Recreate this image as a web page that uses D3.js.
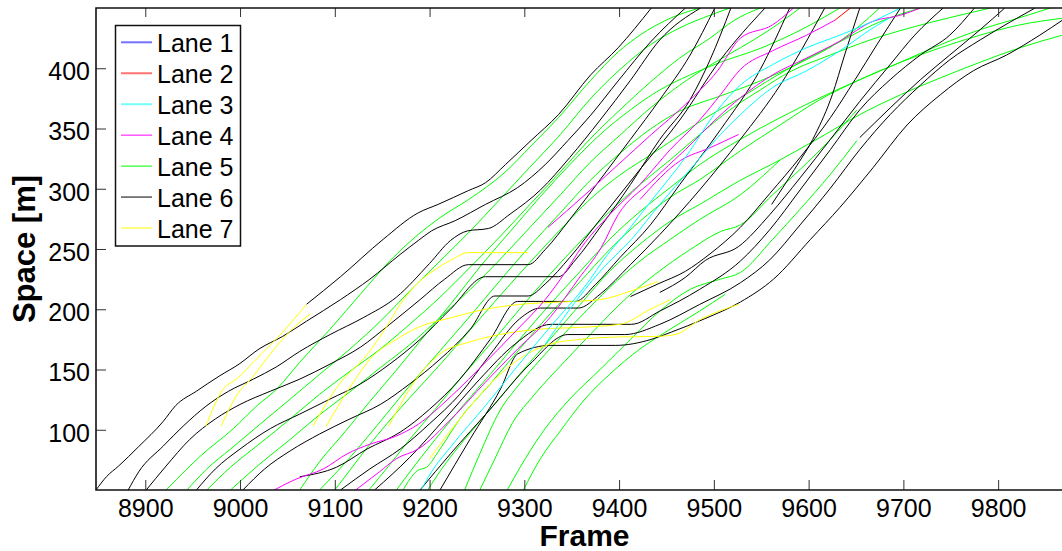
<!DOCTYPE html>
<html><head><meta charset="utf-8">
<script src="https://cdnjs.cloudflare.com/ajax/libs/d3/7.8.5/d3.min.js"></script>
<style>
body{margin:0;background:#fff}
svg{display:block}
text{font-family:Arial,"Liberation Sans",Helvetica,sans-serif}
</style>
</head><body>
<svg id="c" width="1062" height="551"></svg>
<script>
// ---------- data ----------
const laneNames = ["Lane 1","Lane 2","Lane 3","Lane 4","Lane 5","Lane 6","Lane 7"];
const laneColors = ["#0000ff","#ff0000","#00ffff","#ff00ff","#00ff00","#000000","#ffff00"];
const legendColors = ["#7373ff","#ff7373","#73ffff","#ff00ff","#00ff00","#000000","#ffff00"];
const frameTicks = [8900,9000,9100,9200,9300,9400,9500,9600,9700,9800];
const spaceTicks = [100,150,200,250,300,350,400];
const frameDomain = [8848, 9879];
const spaceDomain = [50, 450];

// each track: [frame, space] pairs
const lane1Tracks = [];
const lane2Tracks = [
  [[9628,440],[9644,450]]
];
const lane3Tracks = [
  [[9191,50],[9202,65],[9223,86.5],[9259,120],[9293,153],[9328,186],[9364,219],[9388,245.5],[9412,268],[9434,290],[9470,326],[9504,365.5],[9528,386],[9562,403],[9598,417],[9633,427.5],[9668,439],[9697,450]],
  [[9322,171],[9348,200],[9380,231.5],[9413,258],[9443,287],[9475,316],[9507,345],[9528,361.5],[9562,384],[9598,398],[9633,414.5],[9668,433.5],[9686,442]]
];
const lane4Tracks = [
  [[9325,268],[9364,295],[9399,320],[9434,345],[9470,370],[9504,398],[9528,425],[9562,436],[9584,450]],
  [[9036,50],[9059,59],[9088,67.5],[9113,80],[9137,88],[9164,94.5],[9188,104.5],[9223,128],[9259,156],[9293,183.5],[9322,208],[9343,230.5],[9360,251],[9390,278.5],[9422,303.5],[9454,332.5],[9485,357],[9507,378],[9528,399],[9562,414.5],[9598,427.5],[9628,440]],
  [[9122,50],[9147,65],[9165,76],[9188,84],[9223,109],[9259,139.5],[9293,167],[9328,194],[9357,225],[9381,251],[9399,278.5],[9434,306],[9470,332.5],[9504,359],[9528,375.5],[9562,394.5],[9598,408.5],[9633,422.5],[9668,439],[9697,444],[9718,450]],
  [[9422,291],[9465,323.5],[9496,334],[9526,345]]
];
const lane5Tracks = [
  [[8922,50],[8944,67.5],[8958,78],[8993,101],[9018,120],[9039,134],[9063,156],[9095,183.5],[9127,212.5],[9158,240],[9188,262],[9211,276],[9241,291],[9280,314],[9307,335.5],[9336,359],[9370,390],[9399,413.5],[9422,427.5],[9454,441.5],[9485,450]],
  [[8944,50],[8965,67.5],[8990,84],[9021,104.5],[9053,125.5],[9084,146],[9116,167],[9148,190],[9179,215],[9211,240],[9243,265],[9274,291],[9306,318],[9338,345],[9369,374],[9401,399],[9433,419.5],[9464,433.5],[9496,444],[9517,450]],
  [[8965,50],[8990,69],[9020,88],[9053,109],[9084,129.5],[9116,148.5],[9148,167],[9179,187.5],[9211,210],[9243,235],[9274,260],[9306,287],[9338,314],[9369,341],[9401,365.5],[9433,388.5],[9464,408.5],[9496,425],[9522,440],[9549,450]],
  [[8990,50],[9020,71],[9053,92],[9084,112.5],[9116,131.5],[9148,151.5],[9179,170.5],[9211,193],[9243,216.5],[9274,241],[9306,268],[9338,295],[9369,321.5],[9401,344.5],[9433,367],[9464,386],[9496,402.5],[9528,417],[9559,432],[9591,450]],
  [[9063,50],[9084,73.5],[9111,98.5],[9137,123.5],[9164,148.5],[9190,173.5],[9222,204],[9253,235],[9285,264.5],[9317,293.5],[9348,320],[9380,345],[9412,365.5],[9443,382],[9475,394.5],[9507,405],[9549,416.5],[9591,431.5],[9633,450]],
  [[9084,50],[9116,77],[9134,93.5],[9155,113.5],[9179,136.5],[9211,165.5],[9243,194.5],[9274,223.5],[9306,252.5],[9338,280],[9369,306.5],[9401,329.5],[9433,349.5],[9464,364.5],[9507,377],[9549,389.5],[9591,404.5],[9633,422.5],[9675,450]],
  [[9100,50],[9116,66.5],[9134,85],[9155,105],[9179,126.5],[9211,154],[9243,183],[9274,211],[9306,239],[9338,266],[9369,291],[9401,311.5],[9433,328],[9464,344.5],[9496,361],[9528,375.5],[9559,390.5],[9591,405],[9633,422],[9675,438.5],[9718,450]],
  [[9136,50],[9158,71],[9179,92],[9206,117],[9232,142],[9264,171],[9295,200],[9327,229],[9359,256],[9390,281],[9422,303.5],[9454,324],[9485,345],[9517,365.5],[9549,382],[9580,397],[9623,411],[9665,423.5],[9707,433.5],[9749,442],[9792,450]],
  [[9165,50],[9185,71],[9206,92],[9232,117],[9264,146],[9295,175],[9327,204],[9359,231.5],[9390,258],[9422,281],[9454,301],[9485,320],[9528,341],[9570,359],[9612,375.5],[9654,390.5],[9697,405],[9739,419.5],[9781,432],[9823,442],[9855,450]],
  [[9172,50],[9187,66],[9197,69],[9211,84],[9232,109],[9264,138],[9295,167],[9327,196],[9359,223],[9390,249.5],[9422,273],[9454,293],[9485,307.5],[9528,331.5],[9570,353],[9612,374],[9654,390.5],[9697,405],[9739,417],[9781,427.5],[9823,436],[9868,441.5]],
  [[9198,50],[9216,71],[9237,92],[9264,117],[9295,146],[9327,175],[9359,204],[9390,231.5],[9422,254],[9454,273],[9485,287],[9528,307],[9570,324],[9612,342.5],[9654,361.5],[9697,378],[9739,392],[9781,405],[9823,417],[9868,427.5]],
  [[9237,50],[9253,80],[9274,115.5],[9295,138],[9327,167],[9359,193.5],[9390,218],[9422,240],[9454,258],[9485,274.5],[9528,295],[9570,324]],
  [[9253,50],[9269,76],[9287,105],[9311,129.5],[9343,157],[9375,183.5],[9406,208],[9438,229],[9475,249.5],[9507,264.5],[9528,270],[9562,295],[9591,316],[9623,341],[9651,365.5]],
  [[9282,50],[9301,76],[9322,101],[9348,125.5],[9380,150],[9412,175],[9443,198.5],[9475,216.5],[9507,225],[9528,230.5],[9562,258],[9591,283],[9623,312],[9651,340]],
  [[9299,50],[9317,76],[9338,99],[9364,125.5],[9390,146],[9422,167],[9454,183.5],[9485,198.5],[9512,212.5]]
];
const lane6Tracks = [
  [[9070,204],[9106,227],[9151,258],[9188,280],[9209,287],[9241,298.5],[9259,305],[9280,320],[9307,340],[9336,361.5],[9370,394.5],[9399,417],[9434,450]],
  [[8848,50],[8859,61],[8872,70],[8893,86],[8919,107],[8932,120],[8954,132],[8978,144.5],[8999,154.5],[9020,167],[9045,177.5],[9070,190],[9106,208],[9137,225],[9169,245.5],[9188,257],[9202,265],[9227,273.5],[9259,287],[9293,301],[9322,320],[9346,340],[9370,361],[9399,389.5],[9434,422.5],[9470,450]],
  [[8882,50],[8893,65],[8919,86.5],[8940,103],[8964,119.5],[8988,132],[9014,142],[9038,152],[9063,165],[9095,179],[9130,193],[9165,210],[9200,238],[9222,257],[9240,265],[9262,267],[9285,279],[9317,299],[9348,326],[9380,357],[9412,390],[9443,423.5],[9486,450]],
  [[8901,50],[8921,69],[8947,92],[8974,109],[9000,121],[9032,132],[9063,142],[9095,154.5],[9127,168.5],[9158,187.5],[9190,208],[9216,225],[9241,237],[9304,237],[9322,249.5],[9348,274.5],[9380,307.5],[9412,341],[9443,374],[9475,411],[9501,450]],
  [[8954,50],[8974,67.5],[9000,84],[9032,101],[9063,113],[9095,125.5],[9127,138],[9158,154.5],[9190,175],[9222,200],[9259,227],[9336,227],[9354,241],[9380,268],[9412,303.5],[9443,341],[9475,374],[9496,407],[9518,450]],
  [[9003,50],[9026,67.5],[9053,82.5],[9084,96.5],[9116,109],[9148,121],[9179,138],[9211,158.5],[9243,183.5],[9269,211],[9304,211],[9322,221],[9348,243],[9380,274.5],[9422,316],[9464,357],[9507,407],[9554,450]],
  [[9063,61],[9102,69],[9134,84],[9169,98],[9200,117],[9232,142],[9264,175],[9293,206.5],[9354,206.5],[9375,220.5],[9401,243],[9433,270],[9464,303.5],[9507,349],[9549,399],[9580,450]],
  [[9106,50],[9137,67.5],[9169,84],[9200,105],[9232,129.5],[9264,162.5],[9295,192],[9317,201],[9357,201],[9380,212.5],[9412,237],[9443,262],[9485,299],[9528,341],[9570,386],[9617,450]],
  [[9561,287],[9585,316],[9607,345],[9625,378],[9638,411],[9654,450]],
  [[9412,210.5],[9441,221],[9470,231.5],[9496,246],[9528,268],[9559,296],[9591,326],[9623,359],[9649,390.5],[9672,419.5],[9697,450]],
  [[9443,214],[9470,226.5],[9491,240.5],[9526,252],[9559,278.5],[9591,309],[9623,341],[9654,372.5],[9686,403],[9712,427.5],[9742,450]],
  [[9142,50],[9179,77],[9216,109],[9253,142],[9290,171],[9328,187.5],[9413,187.5],[9443,198.5],[9485,216.5],[9528,240],[9559,266],[9591,299],[9623,332.5],[9654,365.5],[9686,390.5],[9718,411],[9749,427.5],[9775,450]],
  [[9654,342.5],[9686,367],[9718,390.5],[9749,411],[9781,432],[9807,450]],
  [[9190,50],[9222,80],[9264,117],[9306,154.5],[9346,179],[9406,179],[9443,187.5],[9485,204],[9528,222],[9559,241],[9591,270],[9623,300.5],[9654,332.5],[9686,361.5],[9718,386],[9749,407],[9781,423.5],[9813,438.5],[9839,450]],
  [[9211,50],[9243,92.5],[9275,134],[9293,163],[9328,170],[9396,170],[9434,175],[9455,181],[9490,192],[9528,206],[9563,225],[9602,258],[9633,284.5],[9668,317.5],[9704,353],[9739,378],[9774,398],[9809,411],[9844,427.5],[9868,440]]
];
const lane7Tracks = [
  [[8964,103],[8982,133.5],[8996,142],[9017,158.5],[9045,181],[9070,204]],
  [[8980,103],[8996,128],[9014,144.5],[9032,163],[9053,182],[9074,196]],
  [[9077,103],[9094,125.5],[9109,142],[9130,158.5],[9153,183.5],[9169,204],[9188,222],[9206,233],[9223,241],[9241,247],[9304,247]],
  [[9091,103],[9115,134],[9140,161],[9165,175],[9188,185],[9223,193],[9259,200],[9295,204],[9338,206],[9380,208],[9412,215],[9441,223]],
  [[9157,103],[9186,142],[9211,163],[9243,173],[9274,179],[9317,183.5],[9359,185],[9401,187.5],[9433,200],[9454,208]],
  [[9200,76],[9232,109],[9264,138],[9297,160],[9327,171],[9359,175],[9399,177],[9441,177.5],[9459,179],[9487,192],[9526,204]]
];
const laneTracks = [lane1Tracks, lane2Tracks, lane3Tracks, lane4Tracks, lane5Tracks, lane6Tracks, lane7Tracks];

// ---------- layout ----------
const L = 96, T = 8, R = 1073, B = 490;
const svg = d3.select("#c");
const x = d3.scaleLinear().domain(frameDomain).range([L, R]);
const y = d3.scaleLinear().domain(spaceDomain).range([B, T]);

svg.append("defs").append("clipPath").attr("id","clip")
  .append("rect").attr("x",L).attr("y",T).attr("width",R-L).attr("height",B-T);

const plot = svg.append("g").attr("clip-path","url(#clip)");
const line = d3.line().x(d => x(d[0])).y(d => y(d[1])).curve(d3.curveMonotoneX);
const drawOrder = [4,5,6,3,2,1,0];
drawOrder.forEach(i => {
  plot.selectAll(null).data(laneTracks[i]).enter().append("path")
    .attr("d", line).attr("fill","none")
    .attr("stroke", laneColors[i]).attr("stroke-width", 1);
});

// axes
const fontSize = 25;
const fmt = d3.format("d");
const xb = svg.append("g").attr("transform",`translate(0,${B})`)
  .call(d3.axisBottom(x).tickValues(frameTicks).tickFormat(fmt).tickSize(-10).tickSizeOuter(0).tickPadding(9));
const xt = svg.append("g").attr("transform",`translate(0,${T})`)
  .call(d3.axisTop(x).tickValues(frameTicks).tickSize(-9).tickSizeOuter(0).tickFormat(""));
const yl = svg.append("g").attr("transform",`translate(${L},0)`)
  .call(d3.axisLeft(y).tickValues(spaceTicks).tickFormat(fmt).tickSize(-10).tickSizeOuter(0).tickPadding(6));
[xb, xt, yl].forEach(g => {
  g.select(".domain").remove();
  g.selectAll(".tick line").attr("stroke","#333").attr("stroke-width",1);
  g.selectAll(".tick text").attr("font-size",fontSize).attr("fill","#000")
    .attr("font-family",'Arial,"Liberation Sans",sans-serif');
});
yl.selectAll(".tick text").attr("dy","0.45em");

// frame box
svg.append("path")
  .attr("d", `M${R},${T}H${L}V${B}H${R}`)
  .attr("fill","none").attr("stroke","#111").attr("stroke-width",1.6);

// axis titles
svg.append("text").attr("x", (L+R)/2).attr("y", 546).attr("text-anchor","middle")
  .attr("font-size",30).attr("font-weight","bold").text("Frame");
svg.append("text").attr("transform",`translate(35,${(T+B)/2}) rotate(-90)`)
  .attr("text-anchor","middle").attr("font-size",31).attr("font-weight","bold").text("Space [m]");

// legend
const lg = svg.append("g");
lg.append("rect").attr("x",115.5).attr("y",25.5).attr("width",125).attr("height",220.5)
  .attr("fill","#fff").attr("stroke","#111").attr("stroke-width",1.5);
laneNames.forEach((name, i) => {
  const yy = 42.3 + i*30.95;
  lg.append("line").attr("x1",121).attr("x2",152).attr("y1",yy).attr("y2",yy)
    .attr("stroke", legendColors[i]).attr("stroke-width", i < 3 ? 2 : 1);
  lg.append("text").attr("x",157).attr("y",yy+9.7).attr("font-size",fontSize).text(name);
});
</script>
</body></html>
